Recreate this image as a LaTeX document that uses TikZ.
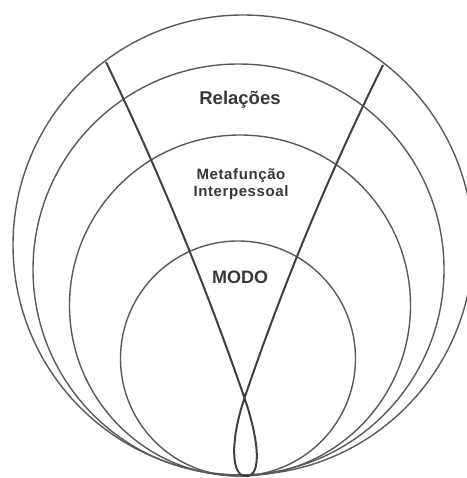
\documentclass[tikz,border=0pt]{standalone}
\usepackage{fontspec}
\setmainfont{Liberation Sans}
\begin{document}
\begin{tikzpicture}[x=1pt,y=-1pt,
  ring/.style={draw=black!65,line width=1.4pt},
  vline/.style={draw=black!75,line width=2pt,line join=round},
  lbl/.style={text=black!78,inner sep=0pt,align=center}]
\useasboundingbox (0,0) rectangle (466,478);
\draw[ring] (243,245) circle[radius=230];
\draw[ring] (238.5,269.5) circle[radius=205.5];
\draw[ring] (240,305.5) circle[radius=170.5];
\draw[ring] (238,358.5) circle[radius=117.5];
\coordinate (tl) at (106,62);
\coordinate (tr) at (383,65);
\coordinate (x) at (244.5,398);
\coordinate (b) at (246,476);
\draw[vline] (tl) .. controls (158.7,171.3) and (204.8,283.3) .. (x)
  .. controls (259.2,440.5) and (262,477) .. (b)
  .. controls (231,477) and (230,440.6) .. (x)
  .. controls (283.3,283.9) and (329.4,172.9) .. (tr);
\node[lbl,font=\fontsize{18.5}{22}\selectfont\bfseries] (rel) at (240,100) {Relações};
\node[lbl,font=\fontsize{15}{17}\selectfont\bfseries\addfontfeature{LetterSpace=4}] (meta) at (241,184) {Metafunção\\Interpessoal};
\node[lbl,font=\fontsize{18}{22}\selectfont\bfseries] (modo) at (240,277) {MODO};
\end{tikzpicture}
\end{document}
